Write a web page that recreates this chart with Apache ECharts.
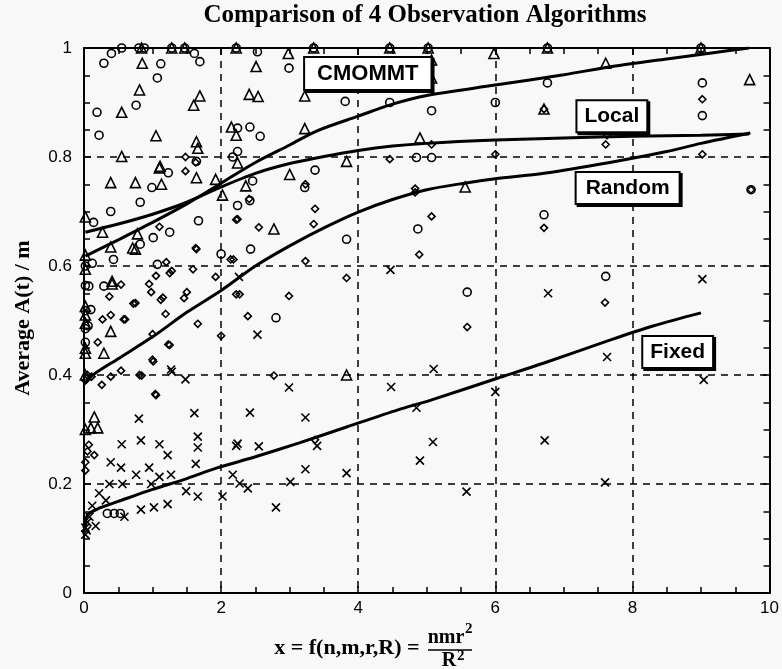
<!DOCTYPE html>
<html>
<head>
<meta charset="utf-8">
<script src="https://cdn.jsdelivr.net/npm/echarts@6/dist/echarts.min.js"></script>
<style>
html,body{margin:0;padding:0;background:#f8f8f8;}
#c{width:782px;height:669px;}
</style>
</head>
<body>
<div id="c"></div>
<script>
// ---- data ----
const xTicks = [0, 2, 4, 6, 8, 10];
const yTicks = [0, 0.2, 0.4, 0.6, 0.8, 1];

const cmommtPts = [
  [0.84,1],[1.28,1],[1.47,1],[2.22,1],[3.35,1],[4.46,1],[5.02,1],[6.76,1],[9.0,1],
  [0.85,0.972],[0.81,0.923],[0.55,0.882],[1.05,0.839],[0.55,0.801],[0.39,0.753],[0.75,0.753],
  [1.11,0.783],[1.6,0.895],[1.69,0.912],[1.64,0.828],[1.66,0.816],[2.51,0.966],[2.41,0.915],
  [2.54,0.911],[2.98,0.99],[3.22,0.912],[2.15,0.855],[2.22,0.84],[2.24,0.789],[3.0,0.768],
  [3.22,0.852],[3.83,0.792],[2.36,0.747],[1.64,0.762],[1.92,0.759],
  [5.07,0.978],[5.07,0.945],[5.98,0.99],[7.61,0.972],[9.71,0.942],[6.71,0.888],[4.9,0.835],[5.56,0.745],
  [2.77,0.668],[0.39,0.48],[0.29,0.44],[0.75,0.631],[0.41,0.572],
  [0.27,0.662],[0.78,0.659],[0.71,0.633],[0.39,0.635],[0.41,0.567],[0.15,0.323],[0.1,0.303],[0.2,0.303],
  [1.13,0.75],[2.02,0.73],[1.1,0.78],[3.83,0.4],
  [0.02,0.69],[0.02,0.62],[0.02,0.594],[0.02,0.526],[0.02,0.51],[0.02,0.495],[0.02,0.449],[0.02,0.44],
  [0.02,0.40],[0.02,0.30]
];

const localPts = [
  [0.4,0.99],[0.55,1],[0.8,1],[0.88,1],[1.28,1],[1.47,1],[2.22,1],[3.35,1],[4.46,1],[5.02,1],[6.76,1],[9.0,1],
  [0.29,0.972],[0.19,0.882],[0.22,0.84],[0.76,0.895],[1.07,0.945],[1.12,0.971],[1.61,0.99],[1.69,0.975],
  [2.53,0.993],[2.99,0.963],[3.81,0.902],[2.42,0.855],[2.57,0.838],[2.24,0.853],[2.24,0.81],[2.17,0.8],
  [2.46,0.756],[3.37,0.776],[3.22,0.744],[0.99,0.744],[1.23,0.771],[1.64,0.792],
  [5.07,0.885],[6.0,0.90],[4.46,0.90],[6.76,0.936],[9.02,0.936],[9.02,0.876],[4.85,0.799],[5.07,0.799],[9.73,0.74],
  [4.87,0.668],[6.71,0.694],[5.59,0.552],[7.61,0.581],
  [3.83,0.649],[2.8,0.505],[2.43,0.631],[2.42,0.72],[2.24,0.711],[2.0,0.622],[1.67,0.683],[1.25,0.662],
  [1.01,0.652],[0.82,0.64],[0.43,0.612],[1.07,0.603],[0.29,0.563],[0.07,0.563],[0.39,0.70],[0.82,0.717],[0.14,0.68],
  [0.12,0.605],[0.02,0.6],[0.02,0.564],[0.02,0.518],[0.1,0.52],[0.06,0.49],[0.02,0.485],[0.02,0.46],
  [0.34,0.146],[0.44,0.146],[0.53,0.146]
];

const randomPts = [
  [1.48,0.8],[1.48,0.774],[1.63,0.79],[1.1,0.672],[1.63,0.633],[1.2,0.607],[1.25,0.587],[1.05,0.582],
  [0.95,0.567],[0.98,0.552],[1.12,0.538],[1.5,0.552],[1.46,0.541],[0.72,0.531],[0.58,0.502],[0.37,0.544],
  [0.39,0.51],[0.27,0.502],[1.19,0.512],[1.66,0.494],[1.0,0.475],[1.23,0.456],[0.2,0.46],[1.0,0.428],
  [0.54,0.408],[0.39,0.397],[0.26,0.382],[0.81,0.4],[1.05,0.363],[1.92,0.58],[2.0,0.472],[2.18,0.612],
  [2.22,0.685],[2.22,0.548],[0.11,0.397],[0.07,0.272],[0.15,0.253],[0.02,0.24],
  [2.41,0.723],[3.37,0.705],[3.35,0.677],[2.55,0.671],[2.24,0.686],[2.14,0.612],[3.23,0.609],[3.83,0.578],
  [2.27,0.548],[2.99,0.545],[2.39,0.508],[1.64,0.631],[1.59,0.594],[1.28,0.591],[1.15,0.542],[0.75,0.532],
  [0.6,0.502],[0.54,0.566],[1.25,0.455],[1.01,0.425],
  [2.77,0.399],[3.37,0.281],[1.04,0.365],[0.84,0.399],
  [5.07,0.823],[4.46,0.796],[6.0,0.805],[9.02,0.906],[9.02,0.805],[7.61,0.823],[7.63,0.84],[4.83,0.742],
  [9.73,0.74],[3.23,0.75],[6.71,0.888],
  [5.07,0.691],[4.89,0.621],[6.71,0.67],[5.59,0.488],[7.6,0.533],[4.83,0.735],
  [0.02,0.225],[0.05,0.26],[0.02,0.39],[0.05,0.40]
];

const fixedPts = [
  [1.27,0.41],[1.48,0.392],[1.61,0.33],[0.8,0.32],[1.66,0.287],[1.66,0.267],[0.83,0.28],[1.1,0.273],
  [1.22,0.253],[0.55,0.273],[0.39,0.24],[0.54,0.23],[0.76,0.217],[0.95,0.23],[1.1,0.213],[1.27,0.217],
  [1.63,0.237],[0.37,0.2],[0.22,0.183],[0.56,0.2],[0.98,0.2],[1.49,0.187],[1.66,0.177],[2.02,0.177],
  [2.17,0.217],[2.22,0.27],[0.32,0.17],[0.12,0.16],[0.83,0.153],[1.02,0.157],[1.22,0.163],[0.59,0.14],
  [0.17,0.123],[0.02,0.12],[0.02,0.107],[0.05,0.13],[0.08,0.14],[0.04,0.115],
  [2.42,0.331],[3.23,0.322],[2.99,0.377],[3.83,0.22],[3.23,0.227],[2.8,0.157],[2.55,0.269],[2.24,0.274],
  [3.4,0.27],[2.27,0.201],[2.39,0.192],[3.01,0.204],[1.28,0.406],
  [4.48,0.378],[4.85,0.34],[5.09,0.277],[4.9,0.243],[5.58,0.186],[6.0,0.369],[6.72,0.28],[7.6,0.203],[9.04,0.391],
  [4.47,0.593],[6.77,0.55],[9.02,0.576],[7.63,0.433],[5.1,0.411],[2.26,0.58],[2.53,0.474]
];

const cmommtFit = [[0.02,0.618],[0.5,0.648],[1,0.68],[1.5,0.714],[2,0.752],[2.5,0.79],[3,0.822],[3.4,0.848],
  [4,0.875],[4.5,0.897],[5,0.913],[6,0.932],[7,0.951],[7.7,0.966],[8.5,0.98],[9.1,0.99],[9.7,1.0]];
const localFit = [[0.02,0.662],[0.5,0.677],[1,0.695],[1.5,0.717],[2,0.745],[2.5,0.77],[3,0.788],[3.5,0.801],
  [4,0.812],[4.5,0.82],[5,0.825],[6,0.831],[7,0.835],[8,0.838],[9,0.84],[9.7,0.842]];
const randomFit = [[0.02,0.385],[0.13,0.40],[0.5,0.43],[1,0.47],[1.5,0.515],[2,0.555],[2.5,0.60],[3,0.637],
  [3.5,0.67],[4,0.699],[4.5,0.722],[5,0.74],[5.55,0.752],[6,0.76],[6.71,0.77],[7.67,0.79],[8.5,0.81],[9,0.825],[9.72,0.844]];
const fixedFit = [[0.02,0.12],[0.05,0.143],[0.23,0.156],[0.5,0.168],[1,0.19],[1.5,0.21],[1.93,0.229],
  [2.5,0.25],[3.13,0.275],[3.84,0.305],[4.58,0.336],[5.06,0.354],[6.03,0.394],[6.71,0.422],[7.67,0.464],[8.3,0.49],[9.0,0.514]];

const labelNames = ['CMOMMT', 'Local', 'Random', 'Fixed'];
const labelX = [4.14, 7.70, 7.93, 8.66];
const labelY = [0.953, 0.875, 0.743, 0.442];

const titleText = 'Comparison of 4 Observation Algorithms';
const yName = 'Average A(t) / m';

// ---- chart ----
const chart = echarts.init(document.getElementById('c'), null, {renderer: 'canvas'});
const SERIF = '"Liberation Serif", "Times New Roman", serif';
const SANS = '"Liberation Sans", Arial, Helvetica, sans-serif';

function axisCommon(pos, showLabel, isX) {
  return {
    type: 'value', position: pos, min: 0, max: isX ? 10 : 1, interval: isX ? 2 : 0.2,
    axisLine: {show: true, onZero: false, lineStyle: {color: '#000', width: 2}},
    axisTick: {show: true, inside: true, length: 7, lineStyle: {color: '#000', width: 1.5}},
    minorTick: {show: true, splitNumber: 4, length: 6, lineStyle: {color: '#000', width: 1.5}},
    axisLabel: {show: showLabel, color: '#000', fontFamily: SANS, fontSize: 17, margin: isX ? 7 : 12},
    splitLine: {show: showLabel, lineStyle: {color: '#000', width: 1.5, type: [7, 6]}},
    minorSplitLine: {show: false}
  };
}

const symCross = 'path://M0,0L10,10M10,0L0,10';

function scatter(name, data, symbol, size) {
  return {
    name, type: 'scatter', data, symbol, symbolSize: size, z: 3,
    itemStyle: {color: 'rgba(0,0,0,0)', borderColor: '#000', borderWidth: 1.6, opacity: 1},
    emphasis: {disabled: true}
  };
}
function fit(name, data) {
  return {
    name, type: 'line', data, showSymbol: false, smooth: 0.3, z: 5,
    lineStyle: {color: '#000', width: 3}, emphasis: {disabled: true}
  };
}

const labelData = labelNames.map((n, i) => ({
  value: [labelX[i], labelY[i]], name: n,
  label: {
    fontSize: n === 'CMOMMT' ? 22 : 21,
    padding: n === 'CMOMMT' ? [5, 12, 4, 12] : (n === 'Random' ? [5, 9, 4, 9] : [5, 7, 4, 7])
  }
}));

chart.setOption({
  backgroundColor: '#f8f8f8',
  animation: false,
  grid: {left: 84, right: 8, top: 48, bottom: 76, containLabel: false},
  xAxis: [axisCommon('bottom', true, true), axisCommon('top', false, true)],
  yAxis: [axisCommon('left', true, false), axisCommon('right', false, false)],
  series: [
    scatter('CMOMMT', cmommtPts, 'triangle', 10),
    scatter('Local', localPts, 'circle', 8),
    scatter('Random', randomPts, 'diamond', 7),
    scatter('Fixed', fixedPts, symCross, 8),
    fit('CMOMMT fit', cmommtFit),
    fit('Local fit', localFit),
    fit('Random fit', randomFit),
    fit('Fixed fit', fixedFit),
    {
      name: 'labels', type: 'scatter', data: labelData, symbolSize: 0, z: 10,
      itemStyle: {opacity: 1},
      label: {
        show: true, position: 'inside', formatter: '{b}', color: '#000', opacity: 1,
        fontFamily: SANS, fontWeight: 'bold',
        backgroundColor: '#ffffff', borderColor: '#000', borderWidth: 2,
        shadowColor: '#000', shadowOffsetX: 2, shadowOffsetY: 2, shadowBlur: 0
      },
      emphasis: {disabled: true}, silent: true
    }
  ],
  graphic: [
    {type: 'text', x: 425, y: 16, style: {text: titleText, font: 'bold 25px ' + SERIF, fill: '#000', align: 'center', verticalAlign: 'middle'}},
    {type: 'text', x: 23, y: 318, rotation: Math.PI / 2, style: {text: yName, font: 'bold 22px ' + SERIF, fill: '#000', align: 'center', verticalAlign: 'middle'}},
    {type: 'text', x: 425, y: 648, style: {text: 'x = f(n,m,r,R) = ', font: 'bold 22px ' + SERIF, fill: '#000', align: 'right', verticalAlign: 'middle'}},
    {type: 'text', x: 446, y: 638, style: {text: 'nmr', font: 'bold 20px ' + SERIF, fill: '#000', align: 'center', verticalAlign: 'middle'}},
    {type: 'text', x: 465, y: 629, style: {text: '2', font: 'bold 15px ' + SERIF, fill: '#000', align: 'left', verticalAlign: 'middle'}},
    {type: 'line', shape: {x1: 428, y1: 650, x2: 472, y2: 650}, style: {stroke: '#000', lineWidth: 1.5}},
    {type: 'text', x: 449, y: 661, style: {text: 'R', font: 'bold 20px ' + SERIF, fill: '#000', align: 'center', verticalAlign: 'middle'}},
    {type: 'text', x: 457, y: 656, style: {text: '2', font: 'bold 15px ' + SERIF, fill: '#000', align: 'left', verticalAlign: 'middle'}}
  ]
});
</script>
</body>
</html>
